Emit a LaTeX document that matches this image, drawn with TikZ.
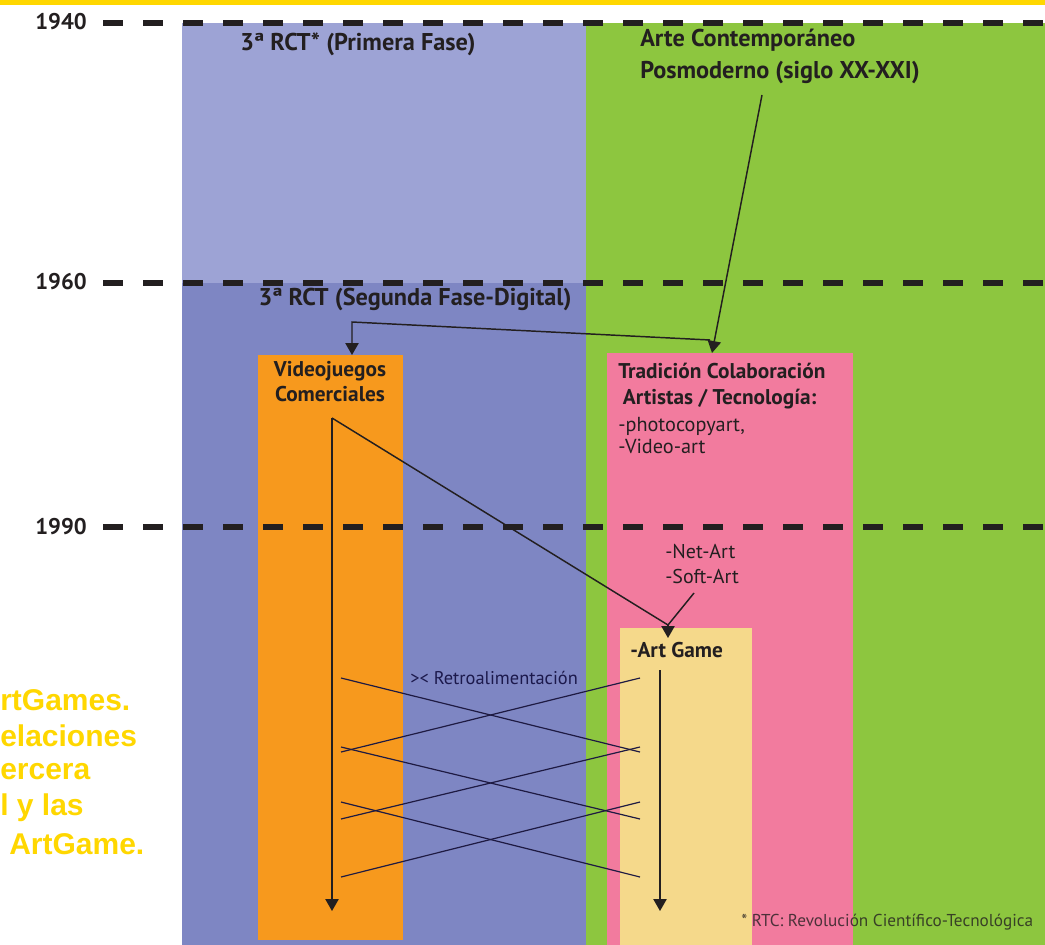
\documentclass[tikz,border=0pt]{standalone}
\usepackage{fontspec}
\setmainfont{PT Sans}
\newfontfamily\captfont{Liberation Sans}
\usetikzlibrary{arrows.meta, positioning}

\definecolor{rctlight}{HTML}{9DA3D5}
\definecolor{rctdark}{HTML}{7E86C3}
\definecolor{artgreen}{HTML}{8DC63F}
\definecolor{vjorange}{HTML}{F7991D}
\definecolor{tradpink}{HTML}{F27B9E}
\definecolor{agyellow}{HTML}{F5D98B}
\definecolor{titleyellow}{HTML}{FFD700}
\definecolor{ink}{HTML}{231F20}

\begin{document}
\begin{tikzpicture}[x=0.75pt, y=-0.75pt,
    yrline/.style={line width=3.8pt, dash pattern=on 15pt off 15pt, ink},
    yr/.style={font=\bfseries\fontsize{17}{18}\selectfont, text=ink, anchor=east, inner sep=0pt},
    hd/.style={font=\bfseries\fontsize{16}{#1}\selectfont, text=ink, inner sep=0pt},
    big/.style={font=\bfseries\fontsize{18.2}{#1}\selectfont, text=ink, inner sep=0pt},
    txt/.style={font=\fontsize{15.2}{#1}\selectfont, text=ink, inner sep=0pt, align=left},
    arr/.style={-{Triangle[length=9pt, width=10pt]}, line width=1.1pt, ink},
    lnk/.style={line width=1.1pt, ink},
    cross/.style={line width=0.9pt, ink!85!blue},
    capt/.style={font=\captfont\bfseries\fontsize{22.5}{27}\selectfont, text=titleyellow, anchor=west, inner sep=0pt}
]
\clip (0,0) rectangle (1045,945);
\fill[white] (0,0) rectangle (1045,945);
\fill[titleyellow] (0,0) rectangle (1045,5);

% zones
\fill[rctlight] (182,23) rectangle (586,283);
\fill[rctdark] (182,283) rectangle (588,945);
\fill[artgreen] (586,23) rectangle (1045,945);
\fill[vjorange] (258,355) rectangle (403,940);
\fill[tradpink] (607,353) rectangle (853,945);
\fill[agyellow] (620,628) rectangle (752,945);

% years
\node[yr] (y1940) at (87,22) {1940};
\node[yr] (y1960) at (87,282) {1960};
\node[yr] (y1990) at (87,527) {1990};
\draw[yrline] (103,23) -- (1045,23);
\draw[yrline] (103,283) -- (1045,283);
\draw[yrline] (103,527) -- (1045,527);

% labels
\node[big=20] (rct1) at (358,44) {3ª RCT* (Primera Fase)};
\node[big=24, align=left, anchor=west] (arte) at (640,56) {Arte Contemporáneo\\Posmoderno (siglo XX-XXI)};
\node[big=20] (rct2) at (415,300) {3ª RCT (Segunda Fase-Digital)};
\node[hd=18.75, align=center] (vj) at (330,382) {Videojuegos\\Comerciales};
\node[hd=20, align=left, anchor=west] (trad) at (618,386) {Tradición Colaboración\\\hspace{3.5pt}Artistas / Tecnología:};
\node[txt=16.5, anchor=west] (tradlist) at (618,436) {-photocopyart,\\-Video-art};
\node[txt=18.75, anchor=west, font=\fontsize{15}{18.75}\selectfont] (net) at (665,564) {-Net-Art\\-Soft-Art};
\node[hd=18, anchor=west] (ag) at (630,650) {-Art Game};
\node[txt=16, anchor=west, font=\fontsize{13.8}{16}\selectfont, text=ink!80!blue] (retro) at (410,678) {>< Retroalimentación};
\node[txt=13, anchor=west, font=\fontsize{12.9}{16}\selectfont, text opacity=0.8] (foot) at (741,922) {* RTC: Revolución Científico-Tecnológica};

% caption (cut at the left edge)
\node[capt] (c1) at (0,700) {rtGames.};
\node[capt] (c2) at (0,736) {elaciones};
\node[capt] (c3) at (0,772) {ercera};
\node[capt] (c4) at (0,808) {l y las};
\node[capt] (c5) at (9,844) {ArtGame.};

% connectors
\coordinate (arteout) at (762,95);
\coordinate (tradin) at (712,353);
\coordinate (split) at (710,340);
\coordinate (bend) at (352,322);
\coordinate (vjin) at (352,355);
\coordinate (vjfork) at (332,418);
\coordinate (vjend) at (332,911);
\coordinate (netout) at (694,593);
\coordinate (agmeet) at (668,625);
\coordinate (agin) at (668,638);
\coordinate (agstart) at (660,670);
\coordinate (agend) at (660,911);

\draw[arr] (arteout) -- (tradin);
\draw[arr] (split) -- (bend) -- (vjin);
\draw[lnk] (vjfork) -- (agmeet);
\draw[lnk] (netout) -- (agmeet);
\draw[arr] (agmeet) -- (agin);
\draw[arr] (vjfork) -- (vjend);
\draw[arr] (agstart) -- (agend);

% feedback crossings
\foreach \ya/\yb in {678/752, 747/819, 802/877} {
  \draw[cross] (341,\ya) -- (640,\yb);
  \draw[cross] (640,\ya) -- (341,\yb);
}
\end{tikzpicture}
\end{document}
